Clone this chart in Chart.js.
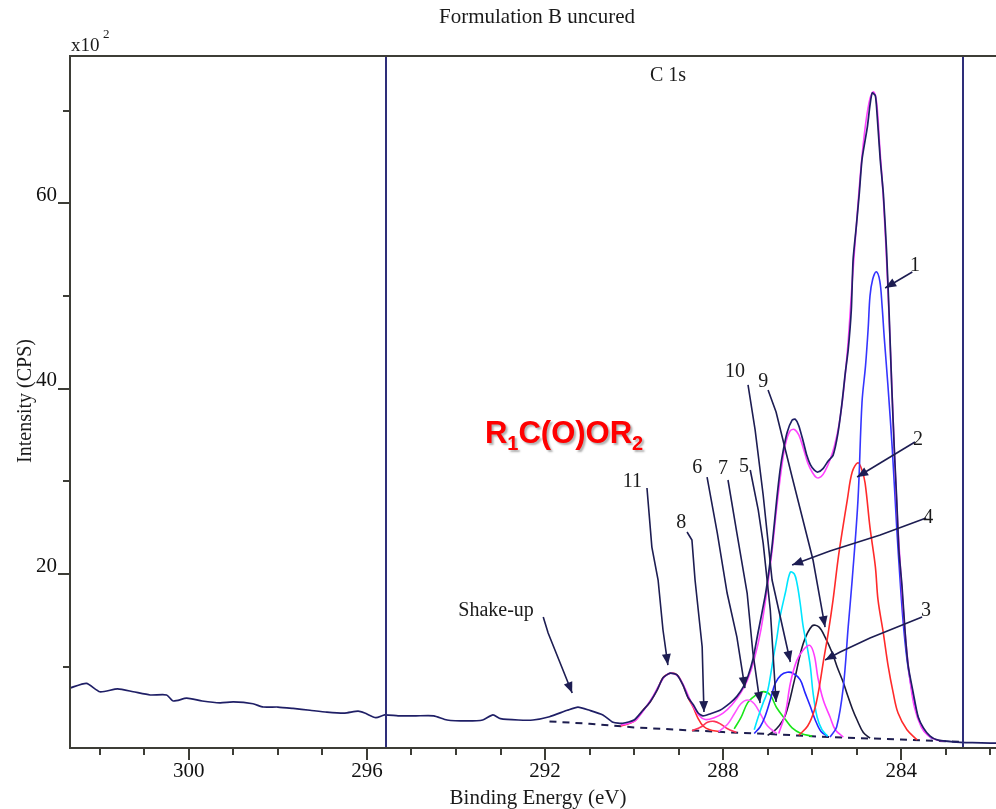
<!DOCTYPE html>
<html>
<head>
<meta charset="utf-8">
<title>Formulation B uncured - C 1s</title>
<script src="https://cdn.jsdelivr.net/npm/chart.js@4.4.1/dist/chart.umd.min.js"></script>
<style>
  html, body { margin: 0; padding: 0; background: #fff; }
  #wrap { width: 996px; height: 809px; }
</style>
</head>
<body>
<div id="wrap"><canvas id="xps" width="996" height="809"></canvas></div>
<script>
/* ===========================================================
   XPS C 1s spectrum, Formulation B uncured.
   Binding energy runs high -> low (reversed x axis).
   Intensity is in units of x10^2 CPS.
   =========================================================== */

// axis ranges + ticks
const xMin = 281.87, xMax = 302.67;
const yMin = 1.23, yMax = 75.88;
const xTickLabels = [300, 296, 292, 288, 284];
const xMinorTicks = [302, 301, 299, 298, 297, 295, 294, 293, 291, 290, 289, 287, 286, 285, 283, 282];
const yTickLabels = [20, 40, 60];
const yMinorTicks = [10, 30, 50, 70];
const regionLines = [295.57, 282.61];

// measured spectrum
const rawE = [302.67, 302.3, 302.0, 301.6, 301.25, 300.87, 300.5, 300.35, 300.05, 299.7, 299.3, 299.0,
  298.56, 298.33, 298.0, 297.66, 297.28, 296.9, 296.5, 296.2, 296.05, 295.8, 295.6, 295.3, 294.9, 294.5,
  294.2, 293.75, 293.4, 293.17, 293.0, 292.6, 292.27, 291.9, 291.5, 291.26, 291.0, 290.7, 290.47, 290.25,
  290.0, 289.8, 289.64, 289.48, 289.35, 289.19, 289.03, 288.9, 288.79, 288.67, 288.56, 288.45, 288.3,
  288.07, 287.84, 287.69, 287.55, 287.44, 287.33, 287.21, 287.06, 286.99, 286.9, 286.8, 286.72, 286.65,
  286.56, 286.45, 286.38, 286.3, 286.2, 286.12, 286.04, 285.95, 285.87, 285.75, 285.64, 285.53, 285.42,
  285.33, 285.26, 285.19, 285.12, 285.08, 285.01, 284.94, 284.88, 284.76, 284.7, 284.65, 284.58, 284.54,
  284.47, 284.4, 284.33, 284.27, 284.21, 284.15, 284.1, 284.05, 283.98, 283.91, 283.84, 283.73, 283.62,
  283.5, 283.35, 283.19, 282.83, 282.4, 282.0, 281.87];
const rawI = [7.7, 8.2, 7.3, 7.6, 7.3, 6.95, 6.95, 6.3, 6.6, 6.3, 6.1, 6.2,
  6.0, 5.65, 5.65, 5.5, 5.3, 5.1, 5.0, 5.2, 5.0, 4.5, 4.8, 4.7, 4.7, 4.7,
  4.25, 4.15, 4.25, 4.8, 4.4, 4.25, 4.25, 4.6, 5.3, 5.65, 5.3, 4.8, 4.0, 3.9,
  4.25, 5.3, 6.2, 7.5, 8.8, 9.3, 9.1, 8.0, 6.7, 5.9, 5.0, 4.7, 4.9,
  5.3, 6.1, 6.8, 7.8, 9.0, 10.8, 13.8, 17.5, 19.7, 23.0, 27.8, 31.2, 33.3,
  35.3, 36.6, 36.7, 36.0, 34.3, 32.8, 31.8, 31.2, 31.0, 31.4, 32.2, 32.8, 35.2,
  38.4, 41.5, 44.2, 48.5, 53.9, 57.4, 61.1, 64.7, 68.2, 70.6, 71.9, 71.6, 69.5,
  64.7, 61.0, 55.0, 48.0, 40.0, 33.0, 28.0, 22.5, 18.6, 13.6, 10.0, 7.2, 4.6,
  3.4, 2.5, 2.1, 1.9, 1.8, 1.75, 1.75];

// fitted envelope (sum of components)
const fitE = [290.3, 290.0, 289.8, 289.6, 289.45, 289.3, 289.15, 289.0, 288.85, 288.7, 288.55, 288.4, 288.2,
  288.0, 287.8, 287.6, 287.45, 287.3, 287.15, 287.0, 286.9, 286.8, 286.7, 286.6, 286.5, 286.4, 286.3, 286.2,
  286.1, 286.0, 285.9, 285.8, 285.7, 285.6, 285.5, 285.4, 285.3, 285.2, 285.1, 285.0, 284.9, 284.8, 284.7,
  284.62, 284.55, 284.48, 284.4, 284.3, 284.2, 284.1, 284.0, 283.9, 283.8, 283.7, 283.55, 283.4, 283.2, 283.0];
const fitI = [3.7, 4.1, 5.2, 6.6, 7.9, 9.0, 9.3, 8.9, 7.6, 6.0, 4.8, 4.3, 4.5,
  5.0, 5.9, 7.2, 8.6, 10.8, 14.0, 18.8, 22.5, 27.0, 31.0, 34.0, 35.4, 35.6, 35.0, 33.6,
  32.0, 31.0, 30.4, 30.5, 31.2, 32.3, 33.8, 36.0, 39.5, 44.5, 51.5, 58.0, 64.0, 68.5, 71.3,
  72.0, 70.8, 66.0, 60.5, 51.0, 39.0, 27.5, 19.5, 13.0, 8.5, 5.6, 3.5, 2.6, 2.1, 1.95];

// Shirley-type background
const bgE = [291.9, 291.0, 290.0, 289.0, 288.0, 287.0, 286.0, 285.0, 284.0, 283.0, 282.61];
const bgI = [4.1, 3.85, 3.45, 3.2, 2.95, 2.75, 2.5, 2.3, 2.15, 1.95, 1.9];

// fitted components
const c1E = [285.6, 285.45, 285.3, 285.19, 285.1, 284.97, 284.88, 284.8, 284.74, 284.7, 284.64, 284.56, 284.48,
  284.43, 284.38, 284.3, 284.2, 284.1, 284.02, 283.95, 283.87, 283.76, 283.65, 283.5, 283.3];
const c1I = [2.4, 3.5, 7.8, 14.3, 19.4, 28.0, 38.5, 42.5, 46.6, 50.0, 51.8, 52.6, 51.6,
  49.0, 45.5, 40.5, 33.5, 25.0, 19.0, 14.5, 10.8, 7.5, 5.0, 3.2, 2.2];

const c2E = [286.3, 286.1, 285.95, 285.85, 285.75, 285.64, 285.53, 285.42, 285.33, 285.21, 285.1, 284.97,
  284.88, 284.81, 284.7, 284.58, 284.52, 284.4, 284.29, 284.18, 284.07, 283.87, 283.64];
const c2I = [2.6, 3.6, 5.3, 7.5, 10.5, 13.6, 17.2, 21.5, 24.4, 28.0, 31.0, 32.0,
  31.2, 29.8, 25.0, 20.8, 17.2, 13.6, 10.0, 7.2, 5.0, 3.2, 2.1];

const c3E = [286.75, 286.6, 286.49, 286.35, 286.2, 286.05, 285.95, 285.87, 285.75, 285.6, 285.48, 285.3];
const c3I = [2.8, 5.0, 8.2, 10.6, 11.8, 12.3, 11.2, 8.8, 6.4, 4.6, 3.2, 2.4];

const c4E = [287.3, 287.21, 287.1, 287.01, 286.94, 286.88, 286.79, 286.72, 286.6, 286.49, 286.4, 286.34,
  286.27, 286.2, 286.11, 286.04, 285.98, 285.89, 285.78, 285.65];
const c4I = [3.2, 4.6, 6.1, 7.2, 8.9, 10.7, 13.2, 15.4, 18.0, 20.2, 20.0, 19.0,
  16.9, 14.3, 12.1, 10.0, 7.2, 4.6, 3.2, 2.5];

const c5E = [287.3, 287.17, 287.06, 286.94, 286.83, 286.7, 286.56, 286.43, 286.27, 286.16, 286.04, 285.93, 285.8, 285.65];
const c5I = [2.8, 3.5, 4.6, 6.4, 8.2, 9.1, 9.4, 9.3, 8.6, 7.2, 5.7, 4.25, 3.0, 2.5];

const c6E = [288.1, 287.9, 287.75, 287.6, 287.45, 287.3, 287.15, 287.0, 286.8];
const c6I = [3.0, 3.8, 4.9, 6.0, 6.4, 6.0, 4.8, 3.6, 2.8];

const c7E = [287.75, 287.6, 287.45, 287.3, 287.12, 286.95, 286.8, 286.6, 286.45, 286.25, 286.0];
const c7I = [3.3, 4.5, 6.1, 6.8, 7.3, 7.0, 5.6, 4.3, 3.4, 2.8, 2.5];

const c8E = [288.7, 288.5, 288.35, 288.2, 288.05, 287.9, 287.7];
const c8I = [3.1, 3.5, 4.0, 4.1, 3.8, 3.3, 2.9];

const c9E = [287.0, 286.8, 286.6, 286.4, 286.2, 286.0, 285.85, 285.71, 285.55, 285.44, 285.3, 285.21, 285.1, 284.99, 284.85, 284.7];
const c9I = [2.6, 3.3, 4.8, 8.5, 12.5, 14.4, 14.3, 13.2, 11.5, 10.0, 8.3, 7.0, 5.5, 4.25, 2.9, 2.3];

const c11E = [290.3, 290.0, 289.8, 289.64, 289.48, 289.35, 289.19, 289.03, 288.9, 288.79, 288.67, 288.56, 288.45, 288.3, 288.1];
const c11I = [3.6, 4.1, 5.3, 6.2, 7.5, 8.8, 9.3, 9.1, 8.0, 6.7, 5.6, 4.4, 3.6, 3.2, 3.0];

// peak labels + arrows, in data coords (eV, x10^2 CPS)
const notes = [
  { text: '1',  at: [283.69, 53.22], path: [[283.75, 52.58], [284.36, 50.85]] },
  { text: '2',  at: [283.62, 34.45], path: [[283.69, 34.24], [284.99, 30.46]] },
  { text: '4',  at: [283.39, 26.04], path: [[283.44, 26.04], [284.47, 24.21], [285.60, 22.48], [286.45, 20.97]] },
  { text: '3',  at: [283.44, 16.01], path: [[283.53, 15.36], [284.70, 13.10], [285.37, 11.59], [285.71, 10.72]] },
  { text: '9',  at: [287.10, 40.71], path: [[286.99, 39.85], [286.81, 37.47], [286.45, 30.46], [285.98, 21.51], [285.71, 14.28]] },
  { text: '10', at: [287.73, 41.79], path: [[287.44, 40.39], [287.28, 35.53], [287.10, 28.52], [286.90, 19.35], [286.49, 10.51]] },
  { text: '6',  at: [288.58, 31.43], path: [[288.36, 30.46], [288.13, 24.42], [287.91, 17.95], [287.69, 13.20], [287.51, 7.70]] },
  { text: '7',  at: [288.00, 31.33], path: [[287.89, 30.14], [287.69, 24.42], [287.46, 17.95], [287.33, 11.48], [287.17, 6.08]] },
  { text: '5',  at: [287.53, 31.54], path: [[287.39, 31.22], [287.21, 26.90], [287.10, 23.34], [286.94, 16.12], [286.81, 6.19]] },
  { text: '11', at: [290.04, 29.92], path: [[289.71, 29.28], [289.60, 22.91], [289.46, 19.35], [289.35, 13.96], [289.24, 10.18]] },
  { text: '8',  at: [288.94, 25.50], path: [[288.81, 24.53], [288.70, 23.67], [288.63, 19.35], [288.47, 12.13], [288.43, 5.11]] },
  { text: 'Shake-up', at: [293.10, 16.01], path: [[292.04, 15.36], [291.93, 13.64], [291.66, 10.40], [291.39, 7.16]] }
];

const SERIF = '"Liberation Serif", "Times New Roman", serif';
const INK = '#1d1d52';

function pts(E, I) {
  return E.map((e, i) => ({ x: e, y: I[i] }));
}

function curve(label, E, I, color, extra) {
  return Object.assign({
    label,
    data: pts(E, I),
    borderColor: color,
    borderWidth: 1.6,
    pointRadius: 0,
    tension: 0.35,
    fill: false,
    order: 2,
  }, extra || {});
}

// frame, ticks, region markers and all the free text
const decor = {
  id: 'decor',
  afterDatasetsDraw(chart) {
    const { ctx, chartArea: a, scales: { x, y } } = chart;
    ctx.save();

    // region markers
    ctx.strokeStyle = '#2e2e7a';
    ctx.lineWidth = 2;
    regionLines.forEach((v) => {
      const px = Math.round(x.getPixelForValue(v));
      ctx.beginPath(); ctx.moveTo(px, a.top); ctx.lineTo(px, a.bottom); ctx.stroke();
    });

    // frame (right side is cut off in the original)
    ctx.strokeStyle = '#3d3d36';
    ctx.beginPath();
    ctx.moveTo(a.right, a.top); ctx.lineTo(a.left, a.top);
    ctx.lineTo(a.left, a.bottom); ctx.lineTo(a.right, a.bottom);
    ctx.stroke();

    // tick marks
    ctx.lineWidth = 2;
    xTickLabels.forEach((v) => tick(ctx, x.getPixelForValue(v), a.bottom, 0, 12));
    xMinorTicks.forEach((v) => tick(ctx, x.getPixelForValue(v), a.bottom, 0, 7));
    yTickLabels.forEach((v) => tick(ctx, a.left, y.getPixelForValue(v), -12, 0));
    yMinorTicks.forEach((v) => tick(ctx, a.left, y.getPixelForValue(v), -7, 0));
    ctx.restore();
  },
  afterDraw(chart) {
    const { ctx, scales: { x, y } } = chart;
    ctx.save();
    ctx.fillStyle = '#1a1a1a';
    ctx.textAlign = 'center';
    ctx.textBaseline = 'middle';

    ctx.font = `21px ${SERIF}`;
    ctx.fillText('Formulation B uncured', 537, 17);
    ctx.fillText('Binding Energy (eV)', 538, 798);

    ctx.font = `20px ${SERIF}`;
    ctx.fillText('C 1s', 668, 76);

    // x10^2 multiplier
    ctx.textAlign = 'left';
    ctx.font = `19px ${SERIF}`;
    ctx.fillText('x10', 71, 46);
    ctx.font = `13px ${SERIF}`;
    ctx.fillText('2', 103, 35);

    // y title
    ctx.save();
    ctx.translate(26, 401);
    ctx.rotate(-Math.PI / 2);
    ctx.textAlign = 'center';
    ctx.font = `20px ${SERIF}`;
    ctx.fillText('Intensity (CPS)', 0, 0);
    ctx.restore();

    // labels + arrows
    notes.forEach((n) => {
      ctx.strokeStyle = INK;
      ctx.fillStyle = INK;
      ctx.lineWidth = 1.6;
      const p = n.path.map(([e, v]) => [x.getPixelForValue(e), y.getPixelForValue(v)]);
      ctx.beginPath();
      p.forEach(([px, py], i) => (i ? ctx.lineTo(px, py) : ctx.moveTo(px, py)));
      ctx.stroke();
      arrowHead(ctx, p[p.length - 2], p[p.length - 1]);

      ctx.fillStyle = '#1a1a1a';
      ctx.textAlign = 'center';
      ctx.font = `20px ${SERIF}`;
      ctx.fillText(n.text, x.getPixelForValue(n.at[0]), y.getPixelForValue(n.at[1]));
    });

    // ester formula with drop shadow
    drawFormula(ctx, x.getPixelForValue(293.35), y.getPixelForValue(34.13));
    ctx.restore();
  },
};

function tick(ctx, px, py, dx, dy) {
  ctx.beginPath();
  ctx.moveTo(Math.round(px), Math.round(py));
  ctx.lineTo(Math.round(px) + dx, Math.round(py) + dy);
  ctx.stroke();
}

function arrowHead(ctx, from, to) {
  const ang = Math.atan2(to[1] - from[1], to[0] - from[0]);
  const len = 11, half = 4.5;
  ctx.beginPath();
  ctx.moveTo(to[0], to[1]);
  ctx.lineTo(to[0] - len * Math.cos(ang) + half * Math.sin(ang), to[1] - len * Math.sin(ang) - half * Math.cos(ang));
  ctx.lineTo(to[0] - len * Math.cos(ang) - half * Math.sin(ang), to[1] - len * Math.sin(ang) + half * Math.cos(ang));
  ctx.closePath();
  ctx.fill();
}

function drawFormula(ctx, left, base) {
  const parts = [['R', false], ['1', true], ['C(O)OR', false], ['2', true]];
  ctx.save();
  ctx.textAlign = 'left';
  ctx.textBaseline = 'alphabetic';
  ctx.fillStyle = '#ff0000';
  ctx.shadowColor = 'rgba(80, 80, 80, 0.45)';
  ctx.shadowOffsetX = 2;
  ctx.shadowOffsetY = 2;
  ctx.shadowBlur = 2;
  let cx = left;
  parts.forEach(([t, sub]) => {
    ctx.font = sub ? 'bold 20px "Liberation Sans", Arial, sans-serif' : 'bold 31px "Liberation Sans", Arial, sans-serif';
    ctx.fillText(t, cx, sub ? base + 7 : base);
    cx += ctx.measureText(t).width;
  });
  ctx.restore();
}

const tickFont = { family: SERIF, size: 21 };

new Chart(document.getElementById('xps'), {
  type: 'line',
  data: {
    datasets: [
      curve('C 1s data', rawE, rawI, '#1f1f66', { order: 0, tension: 0.2, borderWidth: 1.7 }),
      curve('Fit', fitE, fitI, '#ff44ff', { order: 1 }),
      curve('1', c1E, c1I, '#3535ff'),
      curve('2', c2E, c2I, '#ff2a2a'),
      curve('3', c3E, c3I, '#ff3cff'),
      curve('4', c4E, c4I, '#00e5ff'),
      curve('5', c5E, c5I, '#2424ff'),
      curve('6', c6E, c6I, '#ff55ff'),
      curve('7', c7E, c7I, '#19e619'),
      curve('8', c8E, c8I, '#ff3355'),
      curve('9', c9E, c9I, '#1b1b3a'),
      curve('11', c11E, c11I, '#ff2a2a'),
      curve('Background', bgE, bgI, '#1d1d4f', { order: 4, tension: 0, borderWidth: 2, borderDash: [7, 6] }),
    ],
  },
  options: {
    responsive: false,
    animation: false,
    events: [],
    layout: { padding: { top: 56, left: 0, right: 0, bottom: 0 } },
    plugins: {
      legend: { display: false },
      tooltip: { enabled: false },
    },
    scales: {
      x: {
        type: 'linear',
        reverse: true,
        min: xMin,
        max: xMax,
        grid: { display: false, drawTicks: false },
        border: { display: false },
        afterBuildTicks: (s) => { s.ticks = xTickLabels.map((v) => ({ value: v })); },
        afterFit: (s) => { s.height = 61; },
        ticks: { padding: 11, color: '#111', font: tickFont, maxRotation: 0, autoSkip: false },
      },
      y: {
        type: 'linear',
        min: yMin,
        max: yMax,
        grid: { display: false, drawTicks: false },
        border: { display: false },
        afterBuildTicks: (s) => { s.ticks = yTickLabels.map((v) => ({ value: v })); },
        afterFit: (s) => { s.width = 70; },
        ticks: { padding: 13, labelOffset: -8, color: '#111', font: tickFont },
      },
    },
  },
  plugins: [decor],
});
</script>
</body>
</html>
